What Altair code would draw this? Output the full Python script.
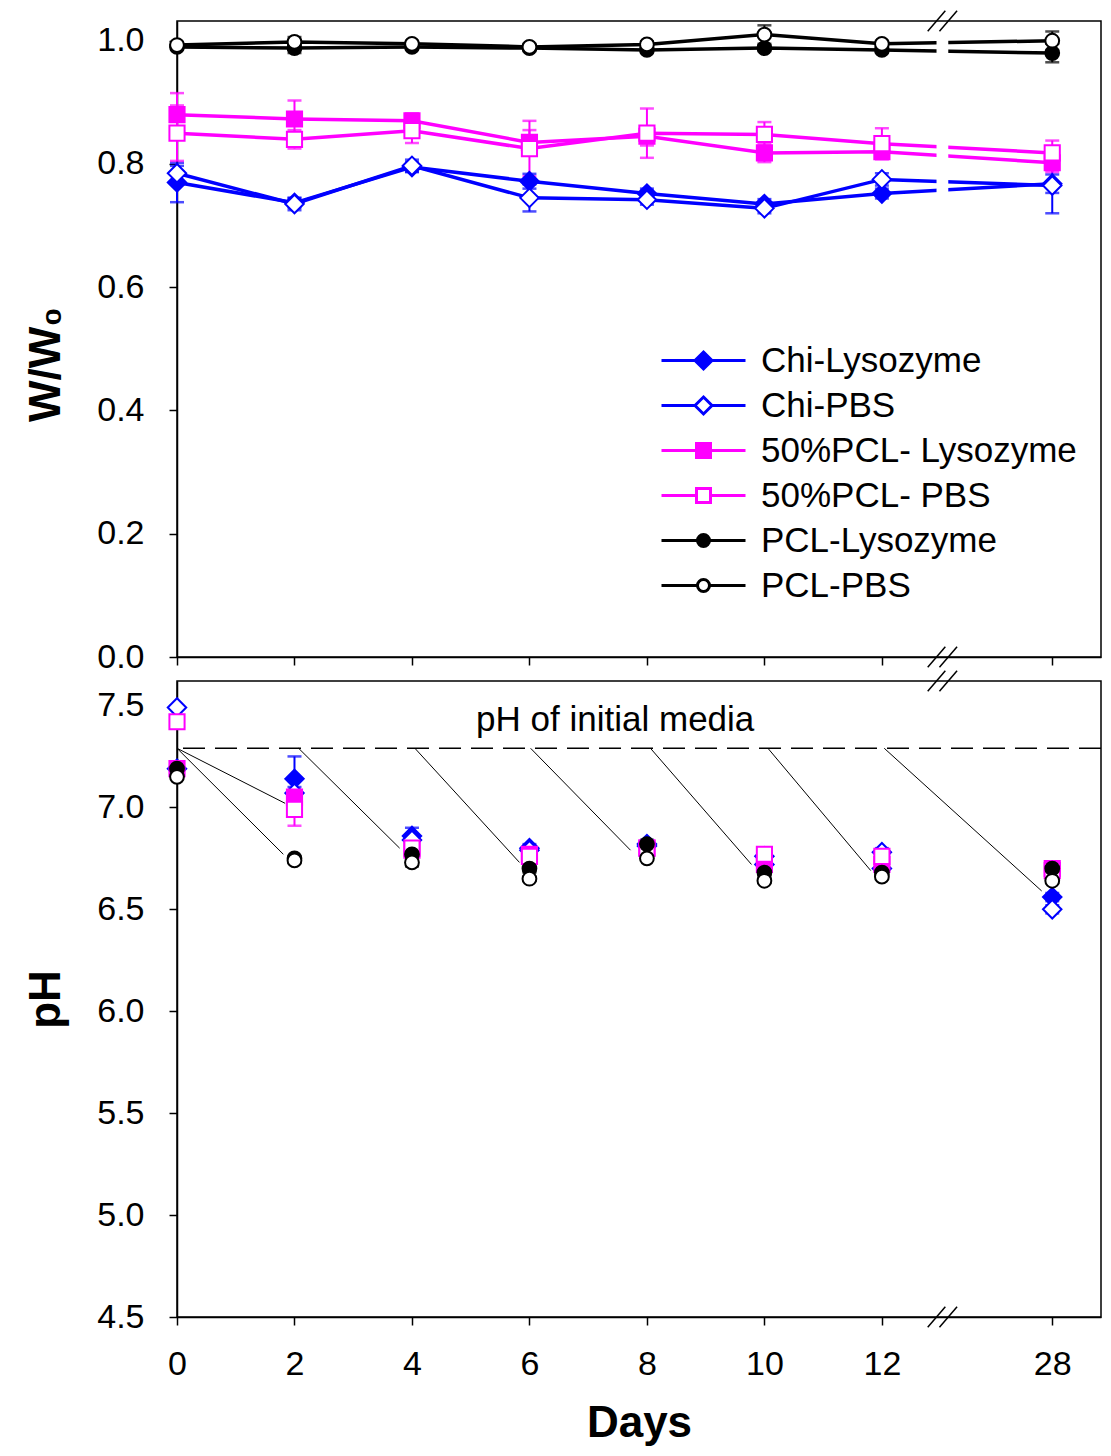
import altair as alt
import pandas as pd

# ---------------- data ----------------
DAYS = [0, 2, 4, 6, 8, 10, 12, 28]
X_TICK_POS = [0, 2, 4, 6, 8, 10, 12, 14.9]   # axis position of each day (break after 12)
SERIES = ["Chi-Lysozyme", "Chi-PBS", "50%PCL- Lysozyme", "50%PCL- PBS", "PCL-Lysozyme", "PCL-PBS"]
COLORS = ["#0000FF", "#0000FF", "#FF00FF", "#FF00FF", "#000000", "#000000"]
FILLS = ["#0000FF", "#FFFFFF", "#FF00FF", "#FFFFFF", "#000000", "#FFFFFF"]
SHAPES = ["diamond", "diamond", "square", "square", "circle", "circle"]
SIZES = [340, 340, 230, 230, 190, 190]
LEGEND_PATHS = [
    "M-4.2,0H-0.85M0.85,0H4.2M0,-0.85L0.85,0L0,0.85L-0.85,0Z",
    "M-4.2,0H-0.85M0.85,0H4.2M0,-0.85L0.85,0L0,0.85L-0.85,0Z",
    "M-4.2,0H-0.7M0.7,0H4.2M-0.7,-0.7H0.7V0.7H-0.7Z",
    "M-4.2,0H-0.7M0.7,0H4.2M-0.7,-0.7H0.7V0.7H-0.7Z",
    "M-4.2,0H-0.6M0.6,0H4.2M0.6,0A0.6,0.6,0,1,1,-0.6,0A0.6,0.6,0,1,1,0.6,0Z",
    "M-4.2,0H-0.6M0.6,0H4.2M0.6,0A0.6,0.6,0,1,1,-0.6,0A0.6,0.6,0,1,1,0.6,0Z",
]

# W/W0 (top panel)
W_CHI_LYS = [0.770, 0.737, 0.795, 0.772, 0.752, 0.735, 0.752, 0.768]
W_CHI_PBS = [0.785, 0.735, 0.797, 0.745, 0.742, 0.728, 0.775, 0.765]
W_50_LYS = [0.880, 0.873, 0.870, 0.835, 0.845, 0.818, 0.820, 0.802]
W_50_PBS = [0.850, 0.840, 0.854, 0.825, 0.850, 0.848, 0.833, 0.818]
W_PCL_LYS = [0.990, 0.988, 0.990, 0.988, 0.985, 0.988, 0.985, 0.980]
W_PCL_PBS = [0.993, 0.998, 0.995, 0.990, 0.994, 1.010, 0.995, 1.000]
W_ERR = [
    [0.032, 0.008, 0.008, 0.012, 0.008, 0.008, 0.008, 0.015],
    [0.012, 0.010, 0.010, 0.022, 0.008, 0.008, 0.010, 0.045],
    [0.035, 0.030, 0.012, 0.020, 0.015, 0.015, 0.012, 0.015],
    [0.045, 0.015, 0.020, 0.045, 0.040, 0.020, 0.025, 0.020],
    [0.005, 0.008, 0.005, 0.005, 0.005, 0.005, 0.005, 0.015],
    [0.005, 0.008, 0.005, 0.005, 0.005, 0.015, 0.005, 0.015],
]

# pH (bottom panel)
PH_CHI_LYS = [7.19, 7.14, 6.86, 6.80, 6.82, 6.72, 6.70, 6.56]
PH_CHI_PBS = [7.49, 7.07, 6.84, 6.79, 6.81, 6.76, 6.78, 6.50]
PH_50_LYS = [7.19, 7.05, 6.79, 6.77, 6.80, 6.72, 6.72, 6.70]
PH_50_PBS = [7.42, 6.99, 6.80, 6.76, 6.80, 6.77, 6.76, 6.69]
PH_PCL_LYS = [7.19, 6.75, 6.77, 6.70, 6.82, 6.68, 6.68, 6.70]
PH_PCL_PBS = [7.15, 6.74, 6.73, 6.65, 6.75, 6.64, 6.66, 6.64]
PH_ERR = [
    [0.02, 0.11, 0.04, 0.02, 0.02, 0.02, 0.02, 0.02],
    [0.01, 0.03, 0.02, 0.02, 0.02, 0.02, 0.02, 0.02],
    [0.01, 0.03, 0.02, 0.02, 0.02, 0.02, 0.02, 0.02],
    [0.02, 0.08, 0.02, 0.02, 0.02, 0.02, 0.02, 0.02],
    [0.02, 0.01, 0.02, 0.02, 0.02, 0.02, 0.02, 0.02],
    [0.01, 0.01, 0.02, 0.01, 0.01, 0.01, 0.01, 0.01],
]

INITIAL_PH = 7.29
ANNOT_TEXT = "pH of initial media"
ANNOT_POS = (7.46, 7.43)
LEADER_X0 = [0, 0, 2.07, 4.05, 6.02, 8.06, 10.06, 12.04]
LEADER_X1 = [1.84, 1.81, 3.79, 5.83, 7.72, 9.78, 11.81, 14.72]
LEADER_Y1 = [7.02, 6.77, 6.80, 6.73, 6.79, 6.72, 6.69, 6.59]

BREAK_A, BREAK_B = 12.93, 13.13
X_DOMAIN = [0, 15.73]
TOP_DOMAIN = [0, 1.032]
BOT_DOMAIN = [4.5, 7.62]

FONT = "Liberation Sans"
PLOT_W, PLOT_H = 924, 636

# ---------------- tables ----------------
def build(values_list, errs):
    rows = []
    for i, s in enumerate(SERIES):
        for j, d in enumerate(DAYS):
            v = values_list[i][j]
            e = errs[i][j]
            rows.append(dict(series=s, order=i, day=d, pos=X_TICK_POS[j], value=v,
                             lo=v - e, hi=v + e, col=COLORS[i], fill=FILLS[i],
                             shape=SHAPES[i], size=SIZES[i]))
    return pd.DataFrame(rows)

top_df = build([W_CHI_LYS, W_CHI_PBS, W_50_LYS, W_50_PBS, W_PCL_LYS, W_PCL_PBS], W_ERR)
bot_df = build([PH_CHI_LYS, PH_CHI_PBS, PH_50_LYS, PH_50_PBS, PH_PCL_LYS, PH_PCL_PBS], PH_ERR)


def slashes(domain, dy):
    rows = []
    for edge in domain:
        for c in (BREAK_A, BREAK_B):
            rows.append(dict(x0=c - 0.15, x1=c + 0.15, y0=edge - dy, y1=edge + dy))
    return pd.DataFrame(rows)


x_scale = alt.Scale(domain=X_DOMAIN, nice=False, zero=False)


def x_enc(show_labels):
    return alt.X("pos:Q", scale=x_scale, axis=alt.Axis(
        values=X_TICK_POS, labels=show_labels, title="Days" if show_labels else None,
        labelExpr="datum.value > 13 ? '28' : format(datum.value, 'd')",
        labelFlush=False, labelPadding=22, titlePadding=20))


def panel(df, domain, yvals, ytitle, title_y, dy, show_x, with_lines, with_legend, extra_layers):
    y_scale = alt.Scale(domain=domain, nice=False, zero=False)
    y_axis = alt.Axis(values=yvals, format=".1f", title=ytitle, labelPadding=25,
                      labelFlush=False, titlePadding=28, titleY=title_y)
    base = alt.Chart(df)
    stroke = alt.Color("col:N", scale=None)
    layers = list(extra_layers)
    if with_lines:
        layers.append(base.mark_line(strokeWidth=3.5).encode(
            x=x_enc(show_x), y=alt.Y("value:Q", scale=y_scale, axis=y_axis),
            color=stroke, detail="series:N", order="pos:Q"))
        gap = pd.DataFrame({"x0": [BREAK_A], "x1": [BREAK_B], "y0": [0.70], "y1": [1.02]})
        layers.append(alt.Chart(gap).mark_rect(color="white").encode(
            x=alt.X("x0:Q", scale=x_scale), x2="x1:Q",
            y=alt.Y("y0:Q", scale=y_scale), y2="y1:Q"))
    layers.append(base.mark_rule(strokeWidth=2).encode(
        x=x_enc(show_x), y=alt.Y("lo:Q", scale=y_scale, axis=y_axis), y2="hi:Q",
        color=stroke))
    layers.append(base.transform_fold(["lo", "hi"], as_=["end", "yv"]).mark_tick(
        orient="horizontal", size=14, thickness=2.5).encode(
        x=x_enc(show_x), y=alt.Y("yv:Q", scale=y_scale, axis=y_axis),
        color=stroke))
    layers.append(base.mark_point(filled=False, strokeWidth=2, opacity=1).encode(
        x=x_enc(show_x), y=alt.Y("value:Q", scale=y_scale, axis=y_axis),
        color=stroke,
        fill=alt.Fill("fill:N", scale=None),
        shape=alt.Shape("shape:N", scale=None),
        size=alt.Size("size:Q", scale=None),
        order="order:Q"))
    if with_legend:
        leg = alt.Legend(orient="none", legendX=509, legendY=322, title=None,
                         labelFont=FONT, labelFontSize=35, labelColor="black", labelLimit=0,
                         symbolSize=400, symbolStrokeWidth=3, symbolOpacity=1,
                         rowPadding=9, labelOffset=40, padding=0)
        layers.append(base.mark_point(filled=False, opacity=1, size=0).encode(
            x=x_enc(show_x), y=alt.Y("value:Q", scale=y_scale, axis=y_axis),
            color=alt.Color("series:N", scale=alt.Scale(domain=SERIES, range=COLORS), legend=leg),
            fill=alt.Fill("series:N", scale=alt.Scale(domain=SERIES, range=FILLS), legend=leg),
            shape=alt.Shape("series:N", scale=alt.Scale(domain=SERIES, range=LEGEND_PATHS), legend=leg)))
    layers.append(alt.Chart(slashes(domain, dy)).mark_rule(strokeWidth=1.5, color="black").encode(
        x=alt.X("x0:Q", scale=x_scale), x2="x1:Q",
        y=alt.Y("y0:Q", scale=y_scale), y2="y1:Q"))
    return alt.layer(*layers).properties(width=PLOT_W, height=PLOT_H)


top = panel(top_df, TOP_DOMAIN, [0, 0.2, 0.4, 0.6, 0.8, 1.0], "W/W\u2080", 343, 0.0165,
            show_x=False, with_lines=True, with_legend=True, extra_layers=[])

# bottom extras
bot_y = alt.Scale(domain=BOT_DOMAIN, nice=False, zero=False)
ref_line = alt.Chart(pd.DataFrame({"y": [INITIAL_PH]})).mark_rule(
    strokeDash=[22, 10], strokeWidth=1.5, color="black").encode(
    y=alt.Y("y:Q", scale=bot_y))
leaders = alt.Chart(pd.DataFrame({"x0": LEADER_X0, "x1": LEADER_X1,
                                  "y0": [INITIAL_PH] * len(LEADER_X0), "y1": LEADER_Y1})).mark_rule(
    strokeWidth=1, color="black").encode(
    x=alt.X("x0:Q", scale=x_scale), x2="x1:Q",
    y=alt.Y("y0:Q", scale=bot_y), y2="y1:Q")
annot = alt.Chart(pd.DataFrame({"x": [ANNOT_POS[0]], "y": [ANNOT_POS[1]], "t": [ANNOT_TEXT]})).mark_text(
    font=FONT, fontSize=35, color="black", baseline="middle", align="center").encode(
    x=alt.X("x:Q", scale=x_scale), y=alt.Y("y:Q", scale=bot_y), text="t:N")

bottom = panel(bot_df, BOT_DOMAIN, [4.5, 5.0, 5.5, 6.0, 6.5, 7.0, 7.5], "pH", 318, 0.05,
               show_x=True, with_lines=False, with_legend=False,
               extra_layers=[ref_line, leaders, annot])

chart = alt.vconcat(top, bottom, spacing=24, bounds="flush").properties(
    padding={"left": 15, "top": 1, "right": 0, "bottom": 0}
).configure(font=FONT).configure_view(
    stroke="black", strokeWidth=1.5
).configure_point(opacity=1).configure_legend(
    symbolOpacity=1
).configure_axis(
    labelFont=FONT, labelFontSize=34, labelColor="black", tickColor="black",
    domainColor="black", tickSize=8, tickWidth=1.5, domainWidth=1.5, grid=False,
    titleFont=FONT, titleFontSize=44, titleFontWeight="bold", titleColor="black"
)

chart.save("out.html", embed_options={"renderer": "svg", "actions": False})
